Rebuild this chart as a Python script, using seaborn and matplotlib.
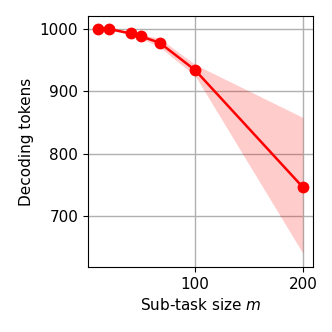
import matplotlib
matplotlib.use("Agg")
import matplotlib.pyplot as plt
import seaborn as sns
import numpy as np
import pandas as pd

m_sizes = [10, 20, 40, 50, 67, 100, 200]
tokens = [1000, 1000, 993, 988, 978, 934, 746]
band_low = [1000, 999, 991, 985, 971, 925, 640]
band_high = [1000, 1001, 995, 991, 985, 943, 858]

df = pd.DataFrame({"m": m_sizes, "tokens": tokens})

plt.rcParams["font.size"] = 11

fig = plt.figure(figsize=(3.32, 3.32), dpi=100)
ax = fig.add_axes([0.265, 0.196, 0.678, 0.756])

ax.fill_between(m_sizes, band_low, band_high, color="red", alpha=0.2, linewidth=0)
sns.lineplot(data=df, x="m", y="tokens", ax=ax, color="red", marker="o",
             markersize=8.5, markeredgewidth=0, linewidth=1.8)

ax.set_xticks([100, 200])
ax.set_yticks([700, 800, 900, 1000])
ax.set_ylim(618, 1021)
ax.grid(True, color="#b0b0b0", linewidth=1.0)
ax.set_axisbelow(True)
ax.set_xlabel("Sub-task size $m$")
ax.set_ylabel("Decoding tokens")

fig.savefig("out.png", dpi=100)
